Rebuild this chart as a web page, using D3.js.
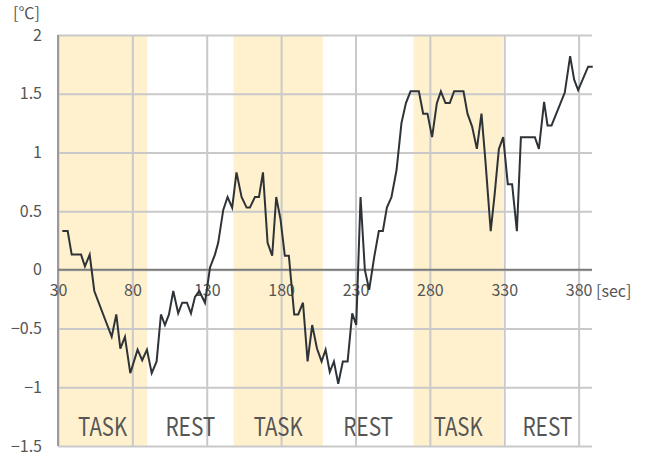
<!DOCTYPE html>
<html>
<head>
<meta charset="utf-8">
<script src="https://cdn.jsdelivr.net/npm/d3@7"></script>
<style>
  html, body { margin: 0; padding: 0; background: #fff; }
  svg text { font-family: "Noto Sans CJK JP", "Noto Sans", sans-serif; fill: #555; }
</style>
</head>
<body>
<div id="chart"></div>
<script>
// Temperature change over time
const seconds = [
  32.9, 36.5, 39.2, 45.5, 48.1, 51.3, 54.4, 66.1, 69.2, 71.9,
  75.0, 78.6, 83.5, 86.6, 89.8, 93.0, 96.3, 99.2, 101.9, 104.6,
  107.5, 110.8, 113.5, 116.7, 119.4, 122.1, 125.0, 128.8, 132.2, 135.5,
  137.7, 141.1, 144.0, 147.1, 150.0, 153.4, 156.8, 159.0, 162.4, 165.1,
  167.8, 170.9, 174.0, 176.7, 179.6, 182.5, 185.2, 188.8, 191.5, 194.7,
  197.8, 200.9, 204.1, 207.2, 209.9, 212.7, 215.5, 218.4, 221.5, 224.7,
  227.8, 230.5, 233.4, 236.3, 239.2, 242.6, 245.7, 248.4, 251.1, 254.2,
  257.6, 260.9, 263.9, 267.0, 272.6, 275.5, 278.4, 281.5, 284.7, 287.4,
  290.5, 293.4, 296.3, 302.6, 305.3, 308.4, 311.6, 314.7, 317.4, 320.9,
  323.6, 326.4, 329.3, 332.4, 335.3, 338.5, 341.2, 350.6, 353.3, 356.8,
  359.1, 361.8, 370.7, 374.3, 377.0, 379.7, 386.4, 389.5
];
const temps = [
  0.33, 0.33, 0.13, 0.13, 0.03, 0.13, -0.18, -0.57, -0.38, -0.67,
  -0.57, -0.88, -0.68, -0.77, -0.68, -0.88, -0.78, -0.38, -0.47, -0.38,
  -0.18, -0.37, -0.28, -0.28, -0.37, -0.23, -0.18, -0.28, 0.02, 0.13,
  0.23, 0.51, 0.62, 0.53, 0.83, 0.62, 0.53, 0.53, 0.62, 0.62,
  0.83, 0.23, 0.12, 0.62, 0.43, 0.12, 0.12, -0.38, -0.38, -0.28,
  -0.78, -0.47, -0.67, -0.78, -0.68, -0.87, -0.78, -0.97, -0.78, -0.78,
  -0.37, -0.47, 0.62, 0.0, -0.17, 0.11, 0.33, 0.33, 0.53, 0.62,
  0.85, 1.25, 1.42, 1.52, 1.52, 1.33, 1.33, 1.13, 1.42, 1.52,
  1.42, 1.42, 1.52, 1.52, 1.33, 1.22, 1.03, 1.33, 0.92, 0.33,
  0.65, 1.03, 1.13, 0.73, 0.73, 0.33, 1.13, 1.13, 1.03, 1.43,
  1.23, 1.23, 1.51, 1.82, 1.62, 1.53, 1.73, 1.73
];

// Phases (start, end in sec)
const phaseNames = ['TASK', 'REST', 'TASK', 'REST', 'TASK', 'REST'];
const phaseStarts = [30, 90, 148, 208, 269, 329];
const phaseEnds = [90, 148, 208, 269, 329, 389];

const xTicks = [30, 80, 130, 180, 230, 280, 330, 380];
const yTicks = [-1.5, -1, -0.5, 0, 0.5, 1, 1.5, 2];

const width = 649, height = 456;
const margin = { top: 35, right: 57, bottom: 10, left: 58 };

const svg = d3.select('#chart')
    .append('svg')
    .attr('width', width)
    .attr('height', height);

const x = d3.scaleLinear()
    .domain([30, 389])
    .range([margin.left, width - margin.right]);

const y = d3.scaleLinear()
    .domain([-1.5, 2])
    .range([height - margin.bottom, margin.top]);

// Task bands
svg.selectAll('.band')
    .data(phaseNames.map((n, i) => ({ name: n, start: phaseStarts[i], end: phaseEnds[i] })).filter(d => d.name === 'TASK'))
    .enter()
    .append('rect')
    .attr('class', 'band')
    .attr('x', d => x(d.start))
    .attr('width', d => x(d.end) - x(d.start))
    .attr('y', y(2))
    .attr('height', y(-1.5) - y(2))
    .attr('fill', '#fff1cd');

// Grid lines
const xGrid = svg.append('g')
    .attr('transform', `translate(0,${y(-1.5)})`)
    .call(d3.axisBottom(x).tickValues(xTicks).tickSize(-(y(-1.5) - y(2))).tickFormat(''));
const yGrid = svg.append('g')
    .attr('transform', `translate(${x(30)},0)`)
    .call(d3.axisLeft(y).tickValues(yTicks).tickSize(-(x(389) - x(30))).tickFormat(''));
[xGrid, yGrid].forEach(g => {
    g.select('.domain').remove();
    g.selectAll('line').attr('stroke', '#c9c9c9').attr('stroke-width', 2);
});

// Left axis and zero line
svg.append('line')
    .attr('x1', x(30)).attr('x2', x(30))
    .attr('y1', y(2)).attr('y2', y(-1.5))
    .attr('stroke', '#9a9a9a')
    .attr('stroke-width', 2);
svg.append('line')
    .attr('x1', x(30)).attr('x2', x(389))
    .attr('y1', y(0)).attr('y2', y(0))
    .attr('stroke', '#7d7d7d')
    .attr('stroke-width', 2);

// Y tick labels
const yLabels = svg.append('g')
    .attr('transform', `translate(${x(30)},0)`)
    .call(d3.axisLeft(y).tickValues(yTicks).tickSize(0).tickPadding(16).tickFormat(d3.format('~g')));
yLabels.select('.domain').remove();
yLabels.selectAll('text')
    .attr('font-size', '16px')
    .attr('font-family', '"Noto Sans CJK JP", "Noto Sans", sans-serif')
    .attr('fill', '#555');

// X tick labels along zero line
const xLabels = svg.append('g')
    .attr('transform', `translate(0,${y(0)})`)
    .call(d3.axisBottom(x).tickValues(xTicks).tickSize(0).tickPadding(15));
xLabels.select('.domain').remove();
xLabels.selectAll('text')
    .attr('font-size', '16px')
    .attr('font-family', '"Noto Sans CJK JP", "Noto Sans", sans-serif')
    .attr('fill', '#555');

// Units
svg.append('text')
    .attr('x', x(389) + 4)
    .attr('y', y(0) + 27)
    .attr('font-size', '16px')
    .text('[sec]');
svg.append('text')
    .attr('x', 13)
    .attr('y', 19)
    .attr('font-size', '16px')
    .text('[℃]');

// Phase labels
svg.selectAll('.phase-label')
    .data(phaseNames.map((n, i) => ({ name: n, start: phaseStarts[i], end: phaseEnds[i] })))
    .enter()
    .append('text')
    .attr('class', 'phase-label')
    .attr('x', d => (x(d.start) + x(d.end)) / 2)
    .attr('y', 436)
    .attr('text-anchor', 'middle')
    .attr('font-size', '25px')
    .attr('textLength', d => d.name === 'TASK' ? 49 : 50)
    .attr('lengthAdjust', 'spacingAndGlyphs')
    .text(d => d.name);

// Temperature line
const line = d3.line()
    .x((d, i) => x(seconds[i]))
    .y(d => y(d));

svg.append('path')
    .datum(temps)
    .attr('fill', 'none')
    .attr('stroke', '#2e3338')
    .attr('stroke-width', 2)
    .attr('d', line);
</script>
</body>
</html>
